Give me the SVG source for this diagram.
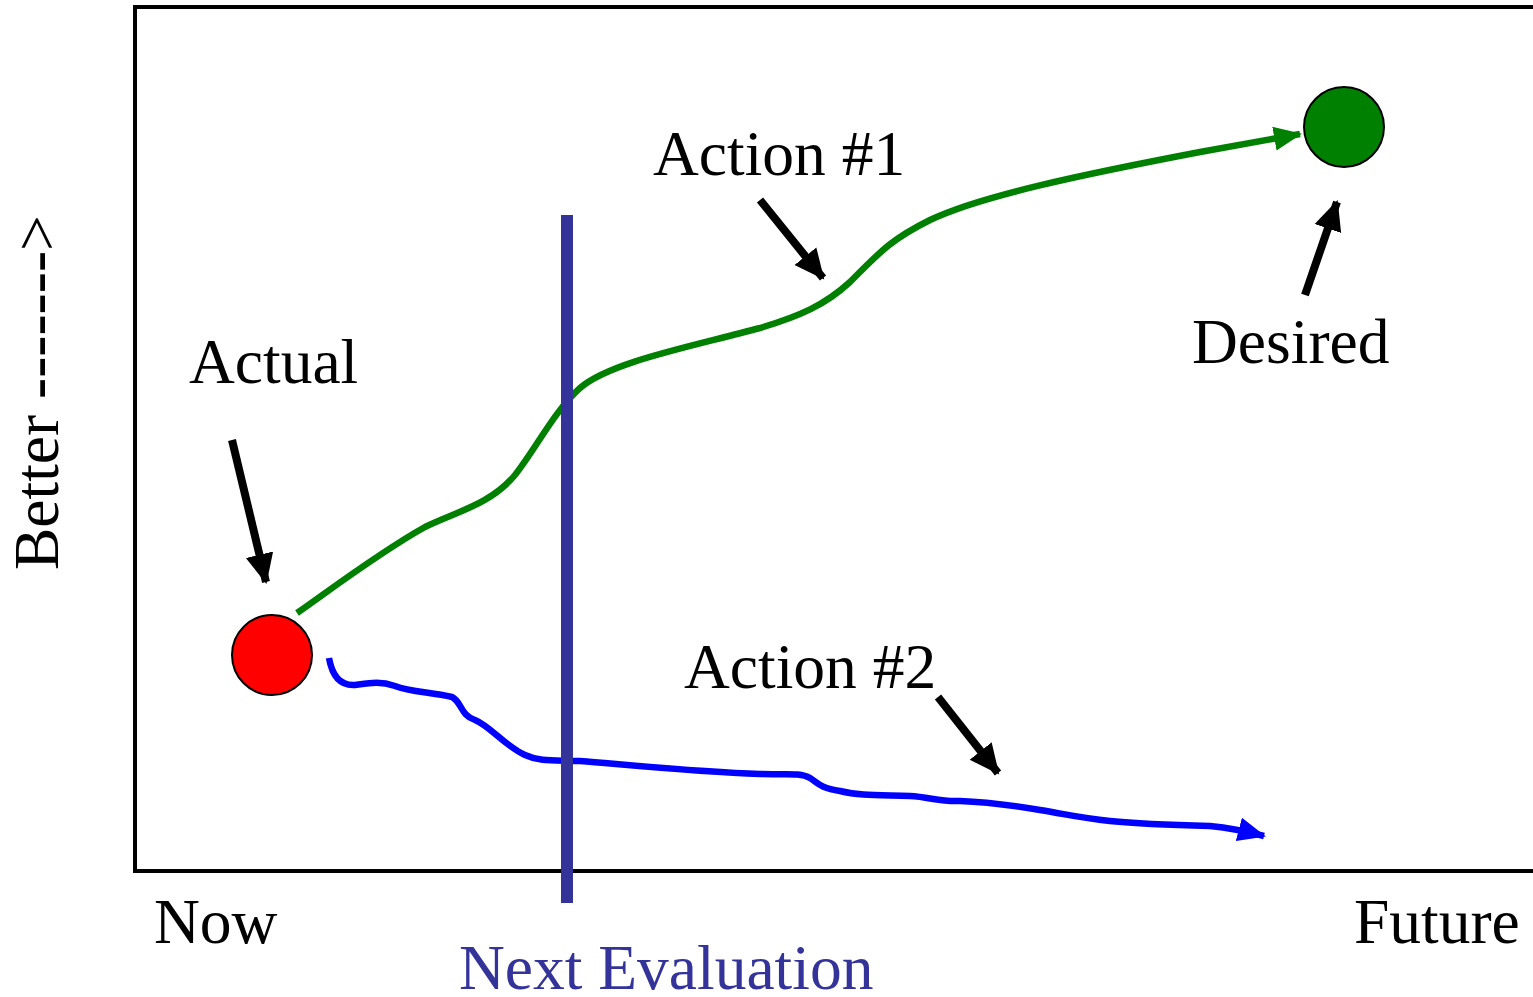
<svg xmlns="http://www.w3.org/2000/svg" width="1533" height="997" viewBox="0 0 1533 997">
<defs>
<style>
text{font-family:"Liberation Serif","Times New Roman",serif;font-size:63.5px;fill:#000}
.blk{stroke:#000;stroke-width:8;fill:none}
</style>
<marker id="ab" markerUnits="userSpaceOnUse" markerWidth="32" markerHeight="32" viewBox="0 0 32 32" refX="28" refY="16" orient="auto">
<path d="M0,2 L30,16 L0,30 Z" fill="#000"/>
</marker>
<marker id="ag" markerUnits="userSpaceOnUse" markerWidth="30" markerHeight="30" viewBox="0 0 30 30" refX="26" refY="15" orient="auto">
<path d="M0,3 L28,15 L0,27 Z" fill="#008000"/>
</marker>
<marker id="abl" markerUnits="userSpaceOnUse" markerWidth="30" markerHeight="30" viewBox="0 0 30 30" refX="26" refY="15" orient="auto">
<path d="M0,3 L28,15 L0,27 Z" fill="#0000ff"/>
</marker>
</defs>
<rect width="1533" height="997" fill="#fff"/>
<g id="frame">
<path d="M1540,7 L135,7 L135,871 L1540,871" fill="none" stroke="#000" stroke-width="4"/>
</g>
<g id="connectors">
<path d="M297,613 C330,590 380,552 425,527 C455,512 490,505 515,475 C535,450 555,410 580,388 C610,362 690,347 760,328 C800,316 825,305 850,282 C880,252 890,240 930,220 C980,196 1080,175 1200,152 L1300,134" fill="none" stroke="#008000" stroke-width="6.5" marker-end="url(#ag)"/>
<path d="M329,658 C332,675 340,686 355,685 C370,683 380,681 395,686 C410,692 430,692 452,697 C462,702 460,715 475,720 C490,726 505,746 525,755 C540,762 555,760 580,761 C640,766 700,772 760,774 C785,775 800,772 810,778 C818,783 820,788 840,791 C860,796 880,795 910,796 C930,797 940,802 960,801 C990,802 1010,805 1040,810 C1070,815 1080,818 1110,821 C1140,824 1170,825 1210,826 C1230,828 1245,831 1264,836" fill="none" stroke="#0000ff" stroke-width="6.5" marker-end="url(#abl)"/>
<line x1="567" y1="215" x2="567" y2="903" stroke="#333399" stroke-width="12"/>
<line class="blk" x1="232" y1="440" x2="266" y2="582" marker-end="url(#ab)"/>
<line class="blk" x1="760" y1="200" x2="823" y2="278" marker-end="url(#ab)"/>
<line class="blk" x1="1305" y1="295" x2="1337" y2="202" marker-end="url(#ab)"/>
<line class="blk" x1="938" y1="697" x2="998" y2="773" marker-end="url(#ab)"/>
</g>
<g id="actual">
<circle cx="272" cy="655" r="40" fill="#ff0000" stroke="#000" stroke-width="2"/>
<text x="189" y="383">Actual</text>
</g>
<g id="desired">
<circle cx="1344" cy="127" r="40" fill="#008000" stroke="#000" stroke-width="2"/>
<text x="1192" y="363">Desired</text>
</g>
<g id="labels">
<text x="653" y="175">Action #1</text>
<text x="684" y="688">Action #2</text>
<text x="154" y="943">Now</text>
<text x="1354" y="943">Future</text>
<text x="459" y="989" style="fill:#333399">Next Evaluation</text>
<text transform="translate(58,570) rotate(-90)">Better -------&gt;</text>
</g>
</svg>
